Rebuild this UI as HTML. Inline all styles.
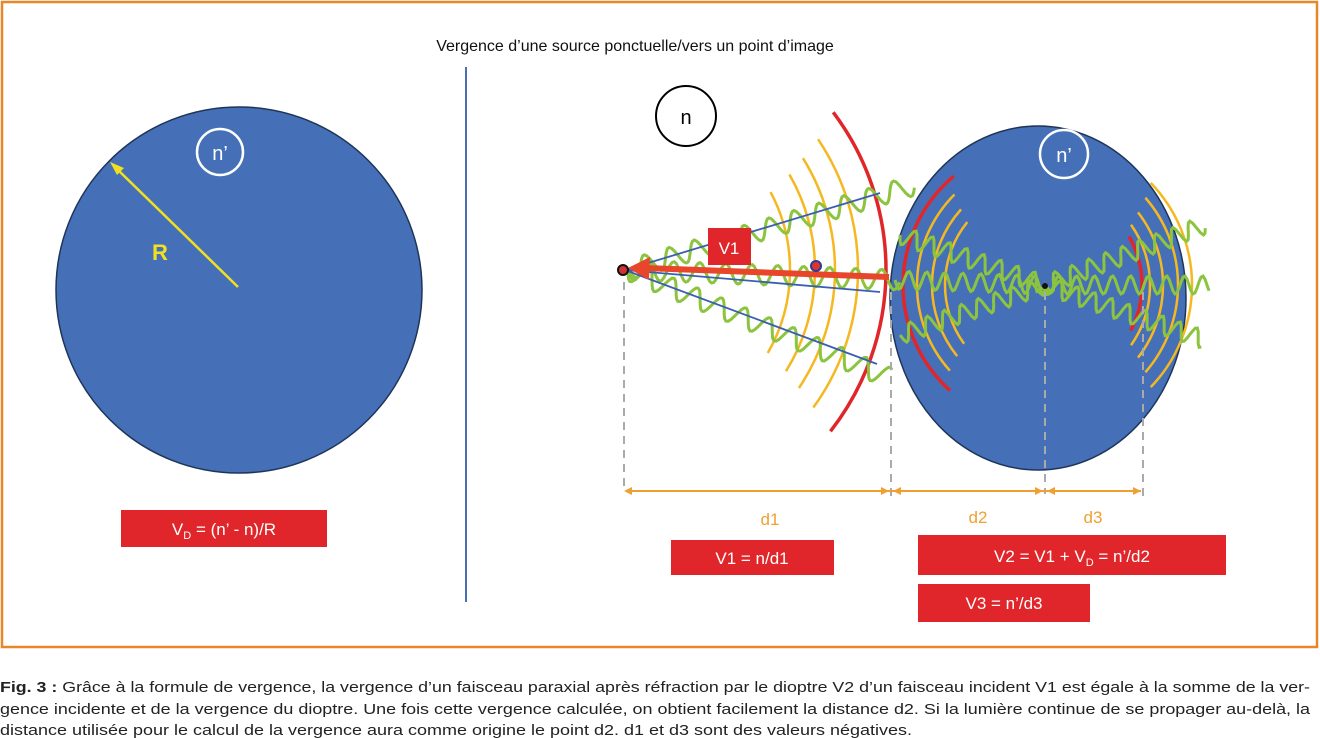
<!DOCTYPE html>
<html><head><meta charset="utf-8"><style>
html,body{margin:0;padding:0;background:#fff;}
svg{display:block;}
text{font-family:"Liberation Sans",sans-serif;}
</style></head><body>
<svg id="s" width="1320" height="738" viewBox="0 0 1320 738" xmlns="http://www.w3.org/2000/svg">
<rect x="2" y="2" width="1315" height="645" fill="#fff" stroke="#e8862a" stroke-width="2.5"/>
<text x="635" y="51" font-size="16" text-anchor="middle" fill="#111">Vergence d’une source ponctuelle/vers un point d’image</text>
<line x1="466" y1="67" x2="466" y2="602" stroke="#4a6fb5" stroke-width="2"/>
<circle cx="239" cy="290" r="183" fill="#4570b8" stroke="#1f3558" stroke-width="1.5"/>
<circle cx="220" cy="152" r="23" fill="none" stroke="#fff" stroke-width="2.5"/>
<text x="220" y="160" font-size="20" fill="#fff" text-anchor="middle">n’</text>
<line x1="238" y1="287" x2="116" y2="168" stroke="#f0e020" stroke-width="2.5"/>
<polygon points="110,162 124,168 117,175" fill="#f0e020"/>
<text x="160" y="260" font-size="22" font-weight="bold" fill="#f0e020" text-anchor="middle">R</text>
<rect x="121" y="510" width="206" height="37" fill="#e0262a"/>
<text x="224" y="535" font-size="17" fill="#fff" text-anchor="middle">V<tspan font-size="11" dy="4">D</tspan><tspan dy="-4"> = (n’ - n)/R</tspan></text>
<circle cx="686" cy="116" r="30" fill="#fff" stroke="#000" stroke-width="2"/>
<text x="686" y="124" font-size="20" text-anchor="middle">n</text>
<ellipse cx="1038" cy="298" rx="148" ry="172" fill="#4570b8" stroke="#1f3558" stroke-width="1.5"/>
<circle cx="1064" cy="154" r="24" fill="none" stroke="#fff" stroke-width="2.5"/>
<text x="1064" y="162" font-size="20" fill="#fff" text-anchor="middle">n’</text>
<g id="arcs" fill="none"></g>
<g id="waves" fill="none" stroke="#8cc43f" stroke-width="3"></g>
<line x1="625" y1="270" x2="880" y2="193" stroke="#3a5fb0" stroke-width="1.8"/>
<line x1="625" y1="270" x2="880" y2="292" stroke="#3a5fb0" stroke-width="1.8"/>
<line x1="625" y1="270" x2="877" y2="364" stroke="#3a5fb0" stroke-width="1.8"/>
<line x1="889" y1="277" x2="645" y2="268" stroke="#e8452a" stroke-width="6"/>
<polygon points="628,268 650,257 649,280" fill="#e8452a"/>
<circle cx="623" cy="270" r="5" fill="#c33" stroke="#111" stroke-width="2"/>
<circle cx="816" cy="266" r="5" fill="#d33" stroke="#2b3f8f" stroke-width="2"/>
<circle cx="1045" cy="286" r="3" fill="#111"/>
<rect x="708" y="228" width="43" height="37" fill="#e0262a"/>
<text x="729" y="254" font-size="17" fill="#fff" text-anchor="middle">V1</text>
<g stroke="#aaa" stroke-width="2" stroke-dasharray="8,6">
<line x1="624" y1="282" x2="624" y2="492"/>
<line x1="891" y1="292" x2="891" y2="497"/>
<line x1="1045" y1="292" x2="1045" y2="494"/>
<line x1="1143" y1="292" x2="1143" y2="502"/>
</g>
<line x1="626" y1="491" x2="1141" y2="491" stroke="#f0a030" stroke-width="2"/>
<g fill="#f0a030">
<polygon points="624,491 632,487 632,495"/><polygon points="889,491 881,487 881,495"/><polygon points="893,491 901,487 901,495"/>
<polygon points="1043,491 1035,487 1035,495"/><polygon points="1047,491 1055,487 1055,495"/><polygon points="1141,491 1133,487 1133,495"/>
</g>
<g font-size="17" fill="#f0a030" text-anchor="middle"><text x="770" y="525">d1</text><text x="978" y="523">d2</text><text x="1093" y="523">d3</text></g>
<rect x="671" y="540" width="163" height="35" fill="#e0262a"/>
<text x="752" y="564" font-size="17" fill="#fff" text-anchor="middle">V1 = n/d1</text>
<rect x="918" y="535" width="308" height="40" fill="#e0262a"/>
<text x="1072" y="562" font-size="17" fill="#fff" text-anchor="middle">V2 = V1 + V<tspan font-size="11" dy="4">D</tspan><tspan dy="-4"> = n’/d2</tspan></text>
<rect x="918" y="584" width="172" height="38" fill="#e0262a"/>
<text x="1004" y="609" font-size="17" fill="#fff" text-anchor="middle">V3 = n’/d3</text>
<g font-size="14.5" fill="#222">
<text x="0" y="692" textLength="1310" lengthAdjust="spacingAndGlyphs"><tspan font-weight="bold">Fig. 3 :</tspan> Grâce à la formule de vergence, la vergence d’un faisceau paraxial après réfraction par le dioptre V2 d’un faisceau incident V1 est égale à la somme de la ver-</text>
<text x="0" y="714" textLength="1310" lengthAdjust="spacingAndGlyphs">gence incidente et de la vergence du dioptre. Une fois cette vergence calculée, on obtient facilement la distance d2. Si la lumière continue de se propager au-delà, la</text>
<text x="0" y="735" textLength="912" lengthAdjust="spacingAndGlyphs">distance utilisée pour le calcul de la vergence aura comme origine le point d2. d1 et d3 sont des valeurs négatives.</text>
</g>
</svg>
<script>
var NS="http://www.w3.org/2000/svg";
function arc(cx,cy,r,a0,a1,col,w){var p=document.createElementNS(NS,"path");
var x0=cx+r*Math.cos(a0),y0=cy+r*Math.sin(a0),x1=cx+r*Math.cos(a1),y1=cy+r*Math.sin(a1);
p.setAttribute("d","M"+x0+" "+y0+" A"+r+" "+r+" 0 0 1 "+x1+" "+y1);
p.setAttribute("stroke",col);p.setAttribute("stroke-width",w);document.getElementById("arcs").appendChild(p);}
var d=Math.PI/180;
[166,191,211,234].forEach(function(r,i){arc(624,270,r,-(28+i*2)*d,(30+i*2)*d,"#f5b820",2.5);});
arc(624,270,262,-37*d,38*d,"#e0262a",3.5);
arc(1045,285,142,(180-48)*d,(180+50)*d,"#e0262a",3.5);
[128,113,100].forEach(function(r,i){arc(1045,285,r,(180-42+i*3)*d,(180+45-i*3)*d,"#f5b820",2.5);});
arc(1045,285,97,-30*d,28*d,"#e0262a",3.5);
[105,118,133,147].forEach(function(r,i){arc(1045,285,r,-(35+i*3)*d,(35+i*3)*d,"#f5b820",2.5);});
function wave(x0,y0,x1,y1,amp,wl){var dx=x1-x0,dy=y1-y0,L=Math.hypot(dx,dy),ux=dx/L,uy=dy/L,nx=-uy,ny=ux,s="";
for(var t=0;t<=L;t+=2){var o=amp*Math.sin(t/wl*2*Math.PI);s+=(t?"L":"M")+(x0+ux*t+nx*o).toFixed(1)+" "+(y0+uy*t+ny*o).toFixed(1);}
var p=document.createElementNS(NS,"path");p.setAttribute("d",s);document.getElementById("waves").appendChild(p);}
wave(628,270,915,185,10,26);wave(628,270,900,280,10,26);wave(628,270,890,378,10,26);
wave(900,235,1045,285,9,18);wave(895,280,1045,285,9,18);wave(900,335,1045,285,9,18);
wave(1045,285,1205,225,9,18);wave(1045,285,1210,285,9,18);wave(1045,285,1205,340,9,18);
</script>
</body></html>
